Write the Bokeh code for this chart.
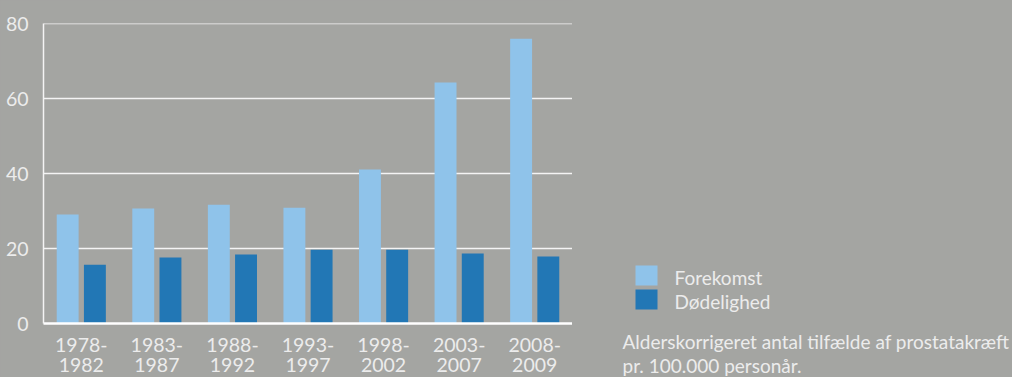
from bokeh.plotting import figure
from bokeh.models import ColumnDataSource, Range1d, FactorRange
from bokeh.layouts import row
from bokeh.transform import dodge
from bokeh.core.properties import value
from bokeh.embed import file_html
from bokeh.resources import INLINE

periods = ["1978-\n1982", "1983-\n1987", "1988-\n1992", "1993-\n1997", "1998-\n2002", "2003-\n2007", "2008-\n2009"]
forekomst = [29.1, 30.7, 31.7, 30.9, 41.1, 64.3, 76.0]
doedelighed = [15.7, 17.6, 18.4, 19.7, 19.7, 18.7, 17.9]
y_ticks = [0, 20, 40, 60, 80]
series_names = ["Forekomst", "Dødelighed"]
caption_lines = ["Alderskorrigeret antal tilfælde af prostatakræft", "pr. 100.000 personår."]

BG = "#a4a5a2"
TXT = "#ececec"
LIGHT = "#8fc3ea"
DARK = "#2277b5"
FONT = "Lato"

src = ColumnDataSource(dict(p=periods, f=forekomst, d=doedelighed))

p = figure(frame_width=529, frame_height=300, x_range=FactorRange(*periods), y_range=Range1d(0, 80.05),
           output_backend="svg", toolbar_location=None,
           min_border_left=43, min_border_right=0, min_border_top=23, min_border_bottom=54,
           outline_line_color=None)
p.frame_align = False
p.background_fill_color = BG
p.border_fill_color = BG

r1 = p.vbar(x=dodge("p", -0.18, range=p.x_range), top="f", width=0.29, source=src,
            fill_color=LIGHT, line_color=None)
r2 = p.vbar(x=dodge("p", 0.18, range=p.x_range), top="d", width=0.29, source=src,
            fill_color=DARK, line_color=None)

p.xgrid.grid_line_color = None
p.ygrid.grid_line_color = "#f4f4f4"
p.ygrid.grid_line_width = 1.5
p.ygrid.ticker = y_ticks

p.yaxis.ticker = y_ticks
p.yaxis.axis_line_color = "#f4f4f4"
p.yaxis.axis_line_width = 1.5
p.yaxis.major_tick_line_color = None
p.yaxis.minor_tick_line_color = None
p.yaxis.major_label_text_color = TXT
p.yaxis.major_label_text_font = FONT
p.yaxis.major_label_text_font_size = "19.5px"
p.yaxis.major_label_standoff = 9

p.xaxis.axis_line_color = "white"
p.xaxis.axis_line_width = 2.5
p.xaxis.major_tick_line_color = None
p.xaxis.minor_tick_line_color = None
p.xaxis.major_label_text_color = TXT
p.xaxis.major_label_text_font = FONT
p.xaxis.major_label_text_font_size = "19.5px"
p.xaxis.major_label_text_line_height = 0.9
p.xaxis.major_label_standoff = 3

# side panel with legend and caption (pixel coordinates, y downwards)
q = figure(width=440, height=377, x_range=Range1d(0, 440), y_range=Range1d(377, 0),
           output_backend="svg", toolbar_location=None, x_axis_type=None, y_axis_type=None,
           min_border=0, outline_line_color=None)
q.frame_align = False
q.background_fill_color = BG
q.border_fill_color = BG
q.grid.grid_line_color = None

leg = ColumnDataSource(dict(x=[74, 74], y=[275, 299], tx=[102, 102], ty=[277, 301],
                            name=series_names, c=[LIGHT, DARK]))
q.rect(x="x", y="y", width=22, height=20, fill_color="c", line_color=None, source=leg)
q.text(x="tx", y="ty", text="name", text_font=value(FONT), text_font_size="19px",
       text_color=TXT, text_baseline="alphabetic", source=leg)

cap = ColumnDataSource(dict(x=[50, 50], y=[341, 365], t=caption_lines))
q.text(x="x", y="y", text="t", text_font=value(FONT), text_font_size="19px",
       text_color=TXT, text_baseline="alphabetic", source=cap)

layout = row(p, q, spacing=0)
page_style = "{% block preamble %}<style>html, body { background: " + BG + "; margin: 0; }</style>{% endblock %}"
open("out.html", "w").write(file_html(layout, INLINE, template=page_style))
